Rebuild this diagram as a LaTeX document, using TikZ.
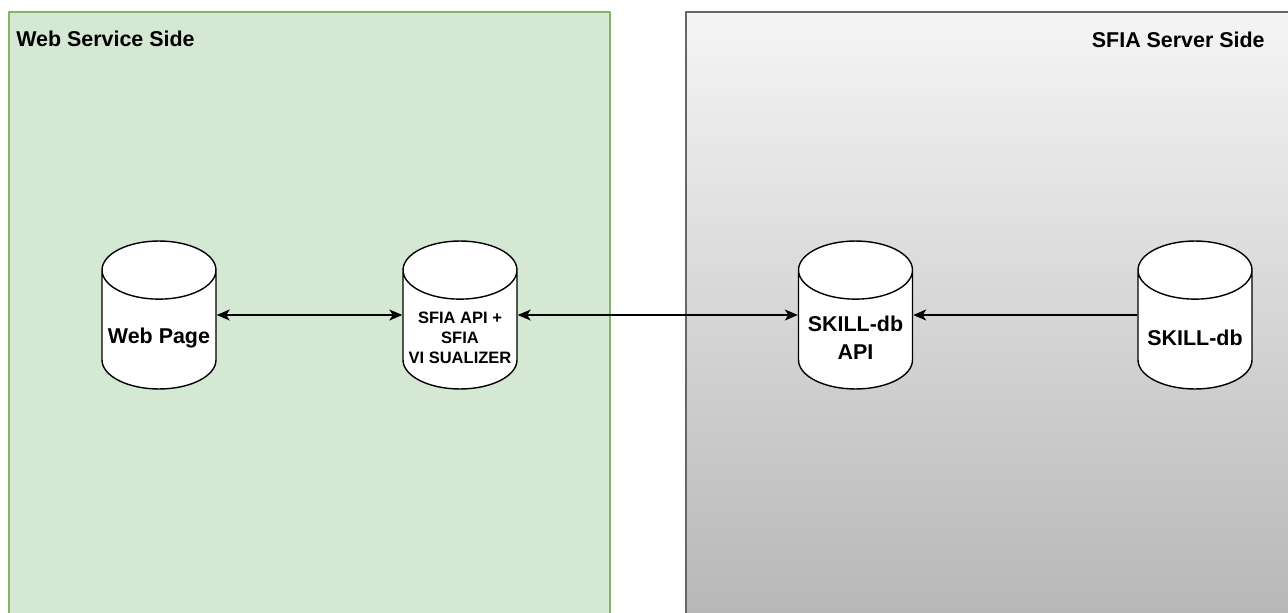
\documentclass[tikz,border=0pt]{standalone}
\usepackage{fontspec}
\setmainfont{Liberation Sans}
\usetikzlibrary{shapes.geometric,arrows.meta}
\definecolor{webfill}{HTML}{D5E8D4}
\definecolor{webline}{HTML}{82B366}
\definecolor{srvtop}{HTML}{F5F5F5}
\definecolor{srvbottom}{HTML}{B5B5B5}
\definecolor{srvline}{HTML}{666666}
\begin{document}
\begin{tikzpicture}[x=0.02cm,y=-0.02cm,line join=round,>={Stealth[length=0.26cm,width=0.22cm,inset=0.07cm]},
    font=\bfseries\fontsize{12.2}{15.9}\selectfont]
    \tikzset{
        db/.style={cylinder,shape border rotate=90,shape aspect=0.57,draw,fill=white,anchor=shape center,
            line width=0.8pt,minimum width=2.28cm,minimum height=2.96cm,inner sep=0pt,
            text width=2.04cm,text height=0.32cm,text depth=0.11cm},
        dbtext/.style={inner sep=0pt,align=center},
        link/.style={line width=0.8pt},
        sidetitle/.style={inner sep=0pt}
    }
    \useasboundingbox (0,0) rectangle (1288,612);
    \clip (0,0) rectangle (1288,612);
    %===============================
    % the two sides
    \fill[webfill] (9,12) rectangle (610,640);
    \draw[webline,line width=1pt] (9,640)--(9,12)--(610,12)--(610,640);
    \shade[top color=srvtop,bottom color=srvbottom] (686,12) rectangle (1300,640);
    \draw[srvline,line width=1pt] (686,640)--(686,12)--(1300,12);
    \node[sidetitle,anchor=west] (webtitle) at (16,39) {Web Service Side};
    \node[sidetitle,anchor=east] (srvtitle) at (1265,40) {SFIA Server Side};
    %===============================
    % stores
    \node[db] (page) at (159,315) {};
    \node[db] (vis) at (460,315) {};
    \node[db] (skapi) at (855.5,315) {};
    \node[db] (skdb) at (1195,315) {};
    \node[dbtext] (pagetext) at ([yshift=-0.46cm]page.shape center) {Web Page};
    \node[dbtext,font=\bfseries\fontsize{9.4}{11.4}\selectfont] (vistext) at ([yshift=-0.46cm]vis.shape center) {SFIA API +\\SFIA\\VI SUALIZER};
    \node[dbtext] (skapitext) at ([yshift=-0.46cm]skapi.shape center) {SKILL-db\\API};
    \node[dbtext] (skdbtext) at ([yshift=-0.46cm]skdb.shape center) {SKILL-db};
    %===============================
    \draw[link,<->] (page.east |- page.shape center) -- (vis.west |- vis.shape center);
    \draw[link,<->] (vis.east |- vis.shape center) -- (skapi.west |- skapi.shape center);
    \draw[link,->] (skdb.west |- skdb.shape center) -- (skapi.east |- skapi.shape center);
\end{tikzpicture}
\end{document}
